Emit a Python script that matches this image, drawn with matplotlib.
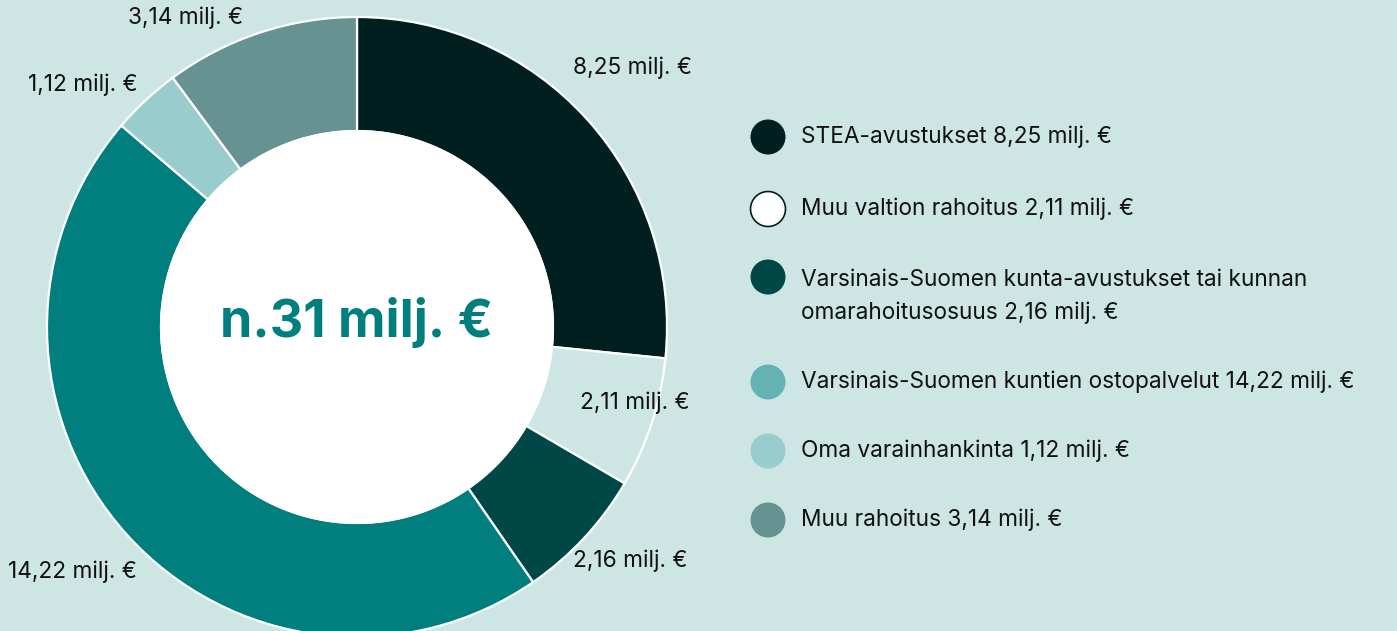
import numpy as np
import matplotlib
matplotlib.use("Agg")
import matplotlib.pyplot as plt
from matplotlib.patches import Circle

# ---- data ----
categories = [
    "STEA-avustukset",
    "Muu valtion rahoitus",
    "Varsinais-Suomen kunta-avustukset tai kunnan\nomarahoitusosuus",
    "Varsinais-Suomen kuntien ostopalvelut",
    "Oma varainhankinta",
    "Muu rahoitus",
]
values = [8.25, 2.11, 2.16, 14.22, 1.12, 3.14]
value_labels = ["8,25 milj. €", "2,11 milj. €", "2,16 milj. €", "14,22 milj. €", "1,12 milj. €", "3,14 milj. €"]
center_label = "n.31 milj. €"

# ---- styles ----
BG = "#cde6e4"
donut_colors = ["#021f1f", "#cde6e4", "#004848", "#007f7e", "#99cccc", "#669391"]
legend_colors = ["#021f1f", "#ffffff", "#004848", "#66b3b3", "#99cccc", "#669391"]
legend_edges = ["none", "#021f1f", "none", "none", "none", "none"]
FONT = ["Inter", "DejaVu Sans"]
plt.rcParams["font.family"] = FONT
TXT = "#111111"
FS = 16.3

W, H = 1397, 631
fig = plt.figure(figsize=(W / 100, H / 100), dpi=100)
fig.patch.set_facecolor(BG)
ax = fig.add_axes([0, 0, 1, 1])
ax.set_facecolor(BG)

cx, cy = 357, H - 327
R_out, R_in = 310, 196

wedges, _ = ax.pie(values, colors=donut_colors, startangle=90, counterclock=False,
                   center=(cx, cy), radius=R_out,
                   wedgeprops=dict(width=R_out - R_in, edgecolor="white", linewidth=1.6))
ax.add_patch(Circle((cx, cy), R_in + 1, facecolor="white", edgecolor="none", zorder=5))
ax.text(cx, cy + 4, center_label, ha="center", va="center", fontsize=37.5,
        fontweight="bold", color="#007f7e", zorder=6)

# value labels around donut (polar placement: radius factor, angle shift in degrees)
label_r = [1.22, 0.93, 1.16, 1.21, 1.18, 1.14]
label_shift = [-1.1, -2.8, -2.4, 1.4, -5.5, -10.8]
total = sum(values)
cum = np.cumsum([0] + values[:-1])
for i, v in enumerate(values):
    mid = (cum[i] + v / 2) / total * 360 + label_shift[i]  # clockwise from top
    th = np.deg2rad(mid)
    r = R_out * label_r[i]
    x = cx + r * np.sin(th)
    y = cy + r * np.cos(th)
    ax.text(x, y, value_labels[i], ha="center", va="center", fontsize=FS,
            color=TXT, zorder=7)

# legend
leg_y = [137, 209, 277, 382, 451, 520]
line_gap = 34
for i, cat in enumerate(categories):
    y = H - leg_y[i]
    ax.add_patch(Circle((768, y), 17.5, facecolor=legend_colors[i],
                        edgecolor=legend_edges[i], linewidth=1.2, zorder=5))
    txt = f"{cat} {value_labels[i]}"
    if "\n" in cat:
        ax.text(801, y - line_gap / 2 - 2.5, txt, ha="left", va="center", fontsize=FS,
                color=TXT, linespacing=1.62)
    else:
        ax.text(801, y, txt, ha="left", va="center", fontsize=FS, color=TXT)

ax.set_xlim(0, W)
ax.set_ylim(0, H)
ax.set_aspect("equal")
ax.axis("off")

fig.savefig("out.png", dpi=100, facecolor=BG)
